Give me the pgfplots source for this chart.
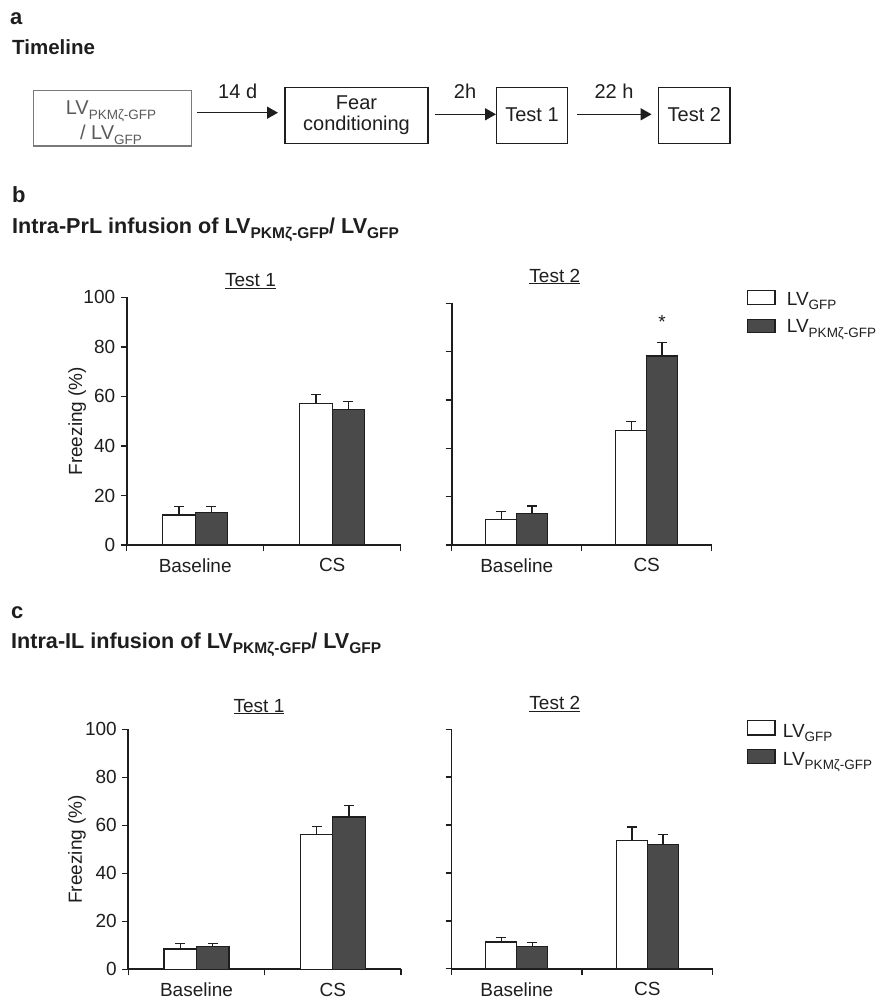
\documentclass[border=0pt]{standalone}
\usepackage{pgfplots}
\pgfplotsset{compat=1.18}
\usepackage{fontspec}
\setmainfont{Liberation Sans}
\usetikzlibrary{arrows.meta}
\definecolor{ink}{HTML}{1E1E1E}
\definecolor{darkbar}{HTML}{4A4A4A}
\definecolor{boxgray}{HTML}{7A7A7A}
\definecolor{txtgray}{HTML}{5A5A5A}
\newcommand\fsz[1]{\fontsize{#1pt}{#1pt}\selectfont}
\newcommand\sub[1]{\raisebox{-4.5pt}{\fsz{13.5}#1}}
\newcommand\hsub[1]{\raisebox{-5.5pt}{\fsz{15.5}#1}}
\pgfplotsset{
 panel/.style={
  scale only axis, clip=false,
  xmin=0,xmax=2,ymin=0,ymax=100,
  axis x line*=bottom, axis y line*=left,
  axis line style={line width=1.7pt, ink},
  tick style={line width=1.4pt, ink},
  tick align=outside,
  major tick length=6pt,
  xtick={0,1,2}, xticklabels={},
  extra x ticks={0.5,1.5}, extra x tick labels={Baseline,CS},
  extra x tick style={major tick length=0pt},
  ytick={0,20,40,60,80,100},
  tick label style={font=\fsz{19}, text=ink},
  xticklabel style={yshift=-10pt},
  yticklabel style={xshift=-2pt},
  /pgf/number format/assume math mode=true,
 },
 barerr/.style={ybar, bar width=0.2375, bar shift=0pt, draw=ink, line width=1.3pt, mark=none,
   error bars/.cd, y dir=plus, y explicit, error mark=|,
   error bar style={line width=1.3pt, ink, solid},
   error mark options={line width=1.3pt, mark size=5pt, ink, solid}},
 gfp/.style={fill=white, barerr},
 pkm/.style={fill=darkbar, barerr},
}
\begin{document}
\begin{tikzpicture}[x=1pt,y=1pt]
\path[use as bounding box] (0,0) rectangle (877,-1003);

% ---------- panel a ----------
\node[anchor=base west, inner sep=0, font=\bfseries\fsz{22}, text=ink] at (10,-25) {a};
\node[anchor=base west, inner sep=0, font=\bfseries\fsz{20.5}, text=ink] at (12,-54.7) {Timeline};
\draw[boxgray, line width=1.4pt] (33.6,-90.7) rectangle (191.3,-146);
\node[anchor=base, inner sep=0, font=\fsz{20}, text=txtgray] at (111,-115) {LV\sub{PKMζ-GFP}};
\node[anchor=base, inner sep=0, font=\fsz{20}, text=txtgray] at (111,-140) {/ LV\sub{GFP}};
\draw[ink, line width=1.5pt] (285,-87.7) rectangle (428,-143.3);
\node[anchor=base, inner sep=0, font=\fsz{20}, text=ink] at (356.5,-110) {Fear};
\node[anchor=base, inner sep=0, font=\fsz{20}, text=ink] at (356.5,-131) {conditioning};
\draw[ink, line width=1.5pt] (496.6,-87.7) rectangle (567.7,-143.3);
\node[anchor=base, inner sep=0, font=\fsz{20}, text=ink] at (532,-121.7) {Test 1};
\draw[ink, line width=1.5pt] (658.6,-87.7) rectangle (730,-143.3);
\node[anchor=base, inner sep=0, font=\fsz{20}, text=ink] at (694.3,-121.7) {Test 2};
\draw[ink, line width=1.5pt, -{Triangle[length=11pt,width=12pt]}] (196.9,-112.7) -- (278,-112.7);
\draw[ink, line width=1.5pt, -{Triangle[length=11pt,width=12pt]}] (434.6,-114.3) -- (496,-114.3);
\draw[ink, line width=1.5pt, -{Triangle[length=11pt,width=12pt]}] (577,-114.3) -- (651.6,-114.3);
\node[anchor=base, inner sep=0, font=\fsz{20}, text=ink] at (237.7,-98.3) {14 d};
\node[anchor=base, inner sep=0, font=\fsz{20}, text=ink] at (465,-98.3) {2h};
\node[anchor=base, inner sep=0, font=\fsz{20}, text=ink] at (614,-98.3) {22 h};

% ---------- panel b ----------
\node[anchor=base west, inner sep=0, font=\bfseries\fsz{22}, text=ink] at (12,-203) {b};
\node[anchor=base west, inner sep=0, font=\bfseries\fsz{21.6}, text=ink] at (12,-233.3) {Intra-PrL infusion of LV\hsub{PKMζ-GFP}/ LV\hsub{GFP}};

\begin{axis}[panel, at={(126.7pt,-545pt)}, anchor=south west, width=274pt, height=247.7pt,
  ylabel={Freezing (\%)}, ylabel style={font=\fsz{19}, text=ink, at={(axis description cs:-0.181,0.5)}, anchor=center}]
\addplot[gfp] coordinates {(0.38125,12.1) +- (0,3.5) (1.38125,57.2) +- (0,3.6)};
\addplot[pkm] coordinates {(0.61875,13.0) +- (0,2.6) (1.61875,54.8) +- (0,3.1)};
\end{axis}
\node[anchor=base, inner sep=0, font=\fsz{19}, text=ink] at (250.5,-286.5) {\underline{Test 1}};

\begin{axis}[panel, at={(451.7pt,-545pt)}, anchor=south west, width=260pt, height=241.7pt, yticklabels={}]
\addplot[gfp] coordinates {(0.38125,10.5) +- (0,3.5) (1.38125,47.5) +- (0,3.5)};
\addplot[pkm] coordinates {(0.61875,12.9) +- (0,3.2) (1.61875,78.2) +- (0,5.6)};
\node[font=\fsz{19}, text=ink, inner sep=0] at (axis cs:1.61875,92.4) {*};
\end{axis}
\node[anchor=base, inner sep=0, font=\fsz{19}, text=ink] at (554.8,-282) {\underline{Test 2}};

\draw[ink, line width=1.3pt, fill=white] (747.7,-290.7) rectangle (775,-304.3);
\draw[ink, line width=1.3pt, fill=darkbar] (747.7,-319.3) rectangle (775,-332.7);
\node[anchor=base west, inner sep=0, font=\fsz{19}, text=ink] at (786.7,-305) {LV\sub{GFP}};
\node[anchor=base west, inner sep=0, font=\fsz{19}, text=ink] at (786.7,-332.7) {LV\sub{PKMζ-GFP}};

% ---------- panel c ----------
\node[anchor=base west, inner sep=0, font=\bfseries\fsz{22}, text=ink] at (11,-618) {c};
\node[anchor=base west, inner sep=0, font=\bfseries\fsz{21.6}, text=ink] at (11,-648) {Intra-IL infusion of LV\hsub{PKMζ-GFP}/ LV\hsub{GFP}};

\begin{axis}[panel, at={(128.3pt,-969.3pt)}, anchor=south west, width=272.7pt, height=240pt,
  ylabel={Freezing (\%)}, ylabel style={font=\fsz{19}, text=ink, at={(axis description cs:-0.188,0.5)}, anchor=center}]
\addplot[gfp] coordinates {(0.38125,8.5) +- (0,2.3) (1.38125,56.2) +- (0,3.2)};
\addplot[pkm] coordinates {(0.61875,9.4) +- (0,1.3) (1.61875,63.5) +- (0,4.8)};
\end{axis}
\node[anchor=base, inner sep=0, font=\fsz{19}, text=ink] at (259,-712) {\underline{Test 1}};

\begin{axis}[panel, at={(451.5pt,-968.7pt)}, anchor=south west, width=261.2pt, height=239.4pt, yticklabels={}]
\addplot[gfp] coordinates {(0.38125,11.1) +- (0,2.0) (1.38125,53.5) +- (0,5.7)};
\addplot[pkm] coordinates {(0.61875,9.3) +- (0,1.7) (1.61875,51.8) +- (0,4.3)};
\end{axis}
\node[anchor=base, inner sep=0, font=\fsz{19}, text=ink] at (554.8,-709.5) {\underline{Test 2}};

\draw[ink, line width=1.3pt, fill=white] (747.7,-720.7) rectangle (775,-735);
\draw[ink, line width=1.3pt, fill=darkbar] (747.7,-749.3) rectangle (775,-763.3);
\node[anchor=base west, inner sep=0, font=\fsz{19}, text=ink] at (782.7,-737.3) {LV\sub{GFP}};
\node[anchor=base west, inner sep=0, font=\fsz{19}, text=ink] at (782.7,-765) {LV\sub{PKMζ-GFP}};
\end{tikzpicture}
\end{document}
